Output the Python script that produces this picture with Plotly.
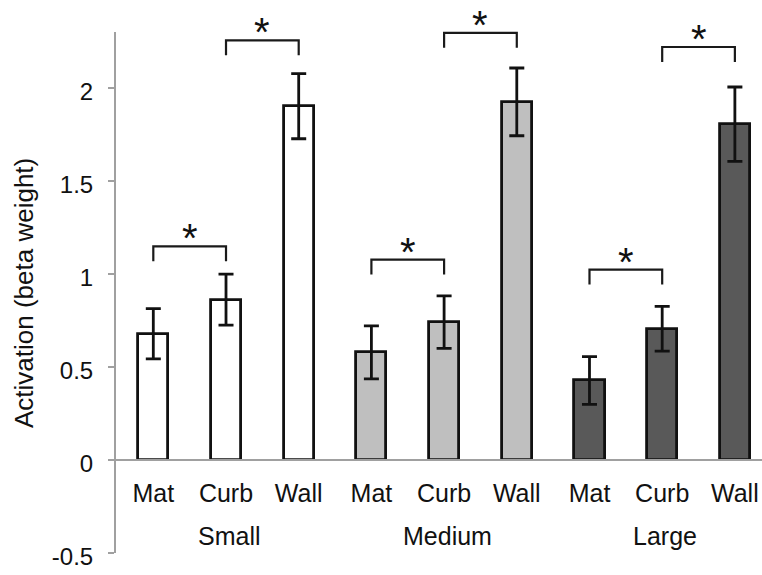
import plotly.graph_objects as go

# ---- data ----
groups = ["Small", "Medium", "Large"]
conditions = ["Mat", "Curb", "Wall"]

small_vals = [0.678, 0.861, 1.901]
small_err = [0.135, 0.137, 0.175]
medium_vals = [0.578, 0.741, 1.924]
medium_err = [0.142, 0.141, 0.182]
large_vals = [0.427, 0.705, 1.804]
large_err = [0.128, 0.120, 0.200]

# significance brackets (height of the bracket top, in beta weight)
bracket_mat_curb = [1.148, 1.076, 1.023]
bracket_curb_wall = [2.255, 2.295, 2.219]
bracket_leg = 0.08

y_ticks = [-0.5, 0, 0.5, 1, 1.5, 2]
y_tick_text = ["-0.5", "0", "0.5", "1", "1.5", "2"]

fill_colors = ["#ffffff", "#bfbfbf", "#595959"]

FONT = "Liberation Sans, Arial, sans-serif"
AXIS_COLOR = "#a0a0a0"
Y_MIN, Y_MAX = -0.5, 2.45
Y_AXIS_TOP = 2.30

series_vals = [small_vals, medium_vals, large_vals]
series_err = [small_err, medium_err, large_err]

fig = go.Figure()
for g, name in enumerate(groups):
    xs = [3 * g + c for c in range(len(conditions))]
    fig.add_trace(go.Bar(
        x=xs, y=series_vals[g], name=name, width=0.413,
        marker=dict(color=fill_colors[g], line=dict(color="#111111", width=2.8)),
        error_y=dict(type="data", array=series_err[g], visible=True,
                     color="#111111", thickness=2.8, width=7.5),
        showlegend=False,
    ))

shapes = []
annotations = []
for g in range(len(groups)):
    for (c0, c1, top) in [(0, 1, bracket_mat_curb[g]), (1, 2, bracket_curb_wall[g])]:
        x0, x1 = 3 * g + c0, 3 * g + c1
        low = top - bracket_leg
        shapes.append(dict(type="path", xref="x", yref="y",
                           path=f"M {x0},{low} L {x0},{top} L {x1},{top} L {x1},{low}",
                           line=dict(color="#1a1a1a", width=2.2)))
        annotations.append(dict(x=(x0 + x1) / 2, y=top, xref="x", yref="y",
                                text="*", showarrow=False, yanchor="middle", yshift=8,
                                font=dict(family=FONT, size=40, color="#111111")))
    annotations.append(dict(x=3 * g + 1, y=-0.411, xref="x", yref="y", text=groups[g],
                            showarrow=False, yanchor="middle", xshift=3,
                            font=dict(family=FONT, size=25, color="#111111")))

# vertical axis line (stops short of the top of the plot area)
shapes.append(dict(type="line", xref="paper", yref="paper", x0=0, x1=0,
                   y0=0, y1=(Y_AXIS_TOP - Y_MIN) / (Y_MAX - Y_MIN),
                   line=dict(color=AXIS_COLOR, width=2)))

annotations.append(dict(x=-(115 - 24) / 647, y=(553 - 293) / 549, xref="paper", yref="paper",
                        text="Activation (beta weight)", textangle=-90, showarrow=False,
                        xanchor="center", yanchor="middle",
                        font=dict(family=FONT, size=26, color="#111111")))

fig.update_layout(
    width=762, height=575,
    margin=dict(l=115, r=0, t=4, b=22, pad=0),
    paper_bgcolor="white", plot_bgcolor="white",
    font=dict(family=FONT, color="#111111"),
    shapes=shapes, annotations=annotations,
    xaxis=dict(range=[-0.527, 8.373], tickmode="array",
               tickvals=list(range(9)), ticktext=conditions * 3,
               anchor="free", position=(0 - Y_MIN) / (Y_MAX - Y_MIN),
               showline=True, linecolor=AXIS_COLOR, linewidth=2,
               ticks="", showgrid=False, zeroline=False,
               tickfont=dict(family=FONT, size=25, color="#111111"),
               ticklabelstandoff=11),
    yaxis=dict(range=[Y_MIN, Y_MAX], tickmode="array", tickvals=y_ticks, ticktext=y_tick_text,
               ticks="outside", ticklen=6, tickwidth=2, tickcolor=AXIS_COLOR,
               showline=False, showgrid=False, zeroline=False,
               tickfont=dict(family=FONT, size=24, color="#111111"),
               ticklabelstandoff=10, ticklabelshift=4),
    bargap=0,
)

fig.write_html("out.html")
